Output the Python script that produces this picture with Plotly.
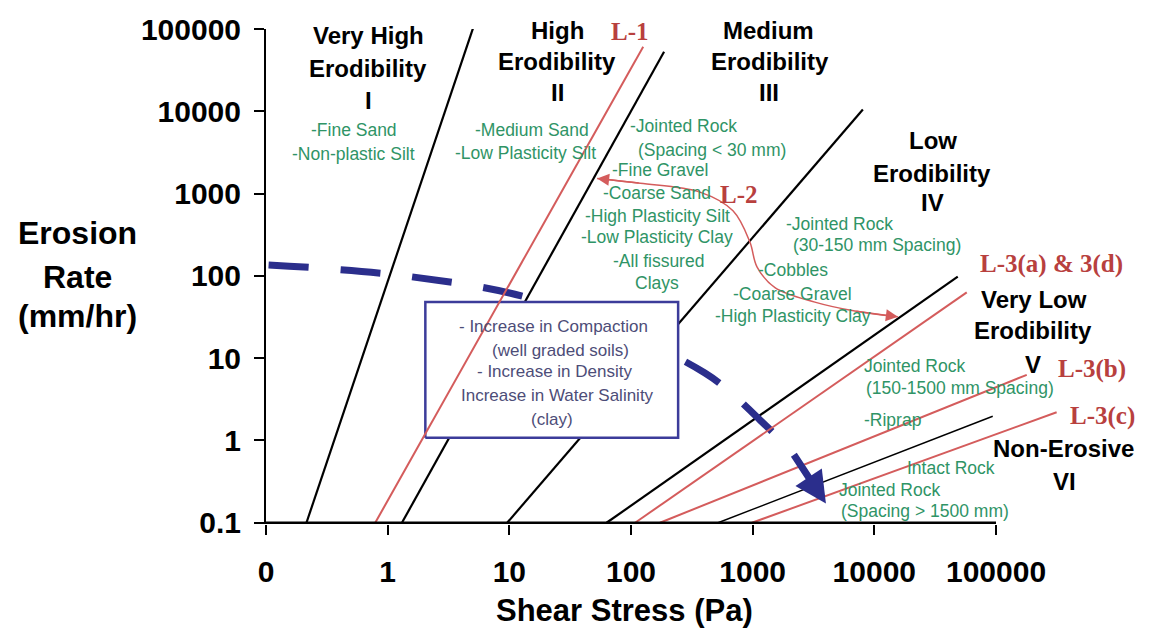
import numpy as np
import plotly.graph_objects as go

# ---------------- data ----------------
x_tick_vals = [0.1, 1, 10, 100, 1000, 10000, 100000]
x_tick_text = ["0", "1", "10", "100", "1000", "10000", "100000"]
y_tick_vals = [0.1, 1, 10, 100, 1000, 10000, 100000]
y_tick_text = ["0.1", "1", "10", "100", "1000", "10000", "100000"]

# category boundary lines (black)
b1_x = [0.215, 5.06];   b1_y = [0.1, 105000]
b2_x = [1.31, 187];     b2_y = [0.1, 53000]
b3_x = [9.6, 8050];     b3_y = [0.1, 10500]
b4_x = [63, 48500];     b4_y = [0.1, 98]
b5_x = [519, 94000];    b5_y = [0.1, 1.97]

# test lines (red)
l1_x = [0.79, 126];       l1_y = [0.1, 61000]
l3a_x = [108, 57500];     l3a_y = [0.1, 63]
l3b_x = [173, 179000];    l3b_y = [0.1, 6.27]
l3c_x = [987, 315000];    l3c_y = [0.1, 2.2]

# L-2 curved double arrow
l2_x = [52.7, 119, 369, 689, 950, 1085, 1525, 3245, 6920, 15600]
l2_y = [1530, 1335, 1042, 618, 256, 129, 72, 48, 37.4, 31.8]

# blue dashed trend (compaction / density / salinity)
trend_x = [0.105, 1.53, 18, 405, 1150, 2140]
trend_y = [136, 98, 49, 6.6, 1.77, 0.70]
trend_tip_x = 4000
trend_tip_y = 0.171

# text box extent
box_x_range = [2.04, 244]
box_y_range = [1.08, 48]

# axis line extent
xaxis_line_x = [0.1, 100000]
xaxis_line_y = [0.1, 0.1]

# ---------------- layout geometry ----------------
W, H = 1152, 634
ML, MT = 265.5, 20
XR = [-1, 5.6]
YR = [-1.015, 5]
DEC_X = 121.8
DEC_Y = 83.75
PW = (XR[1] - XR[0]) * DEC_X
PH = (YR[1] - YR[0]) * DEC_Y
MR = W - ML - PW
MB = H - MT - PH


def paper(px, py):
    return (px - ML) / PW, (MT + PH - py) / PH


SANS = "Liberation Sans, Arial, sans-serif"
SERIF = "Liberation Serif, Times New Roman, serif"
BLACK = "#000000"
RED_LINE = "#d45c5c"
RED_TEXT = "#b8403e"
GREEN = "#2f9466"
NAVY = "#2b2e8c"
BOX_EDGE = "#3c3c9a"
BOX_TEXT = "#4d4d78"

fig = go.Figure()

for xs, ys, w in [(b1_x, b1_y, 2.2), (b2_x, b2_y, 2.2), (b3_x, b3_y, 2.2),
                  (b4_x, b4_y, 2.2), (b5_x, b5_y, 1.4)]:
    fig.add_trace(go.Scatter(x=xs, y=ys, mode="lines",
                             line=dict(color=BLACK, width=w), hoverinfo="skip"))

fig.add_trace(go.Scatter(x=trend_x, y=trend_y, mode="lines",
                         line=dict(color=NAVY, width=7, dash="40px,32px",
                                   shape="spline", smoothing=1),
                         hoverinfo="skip"))

bx = [box_x_range[0], box_x_range[1], box_x_range[1], box_x_range[0], box_x_range[0]]
by = [box_y_range[0], box_y_range[0], box_y_range[1], box_y_range[1], box_y_range[0]]
fig.add_trace(go.Scatter(x=bx, y=by, mode="lines", fill="toself",
                         fillcolor="white", line=dict(color=BOX_EDGE, width=2.5),
                         hoverinfo="skip"))

for xs, ys in [(l1_x, l1_y), (l3a_x, l3a_y), (l3b_x, l3b_y), (l3c_x, l3c_y)]:
    fig.add_trace(go.Scatter(x=xs, y=ys, mode="lines",
                             line=dict(color=RED_LINE, width=2), hoverinfo="skip"))

fig.add_trace(go.Scatter(x=l2_x, y=l2_y, mode="lines",
                         line=dict(color=RED_LINE, width=1.5, shape="spline", smoothing=1),
                         hoverinfo="skip"))

fig.add_trace(go.Scatter(x=xaxis_line_x, y=xaxis_line_y, mode="lines",
                         line=dict(color=BLACK, width=2.5), hoverinfo="skip"))

annotations = []

# arrowheads
annotations.append(dict(x=np.log10(trend_tip_x), y=np.log10(trend_tip_y),
                        ax=np.log10(trend_x[-1]), ay=np.log10(trend_y[-1]),
                        xref="x", yref="y", axref="x", ayref="y", text="",
                        showarrow=True, arrowhead=2, arrowsize=0.9, arrowwidth=7,
                        arrowcolor=NAVY, standoff=0))
annotations.append(dict(x=np.log10(l2_x[0]), y=np.log10(l2_y[0]),
                        ax=np.log10(l2_x[1]), ay=np.log10(l2_y[1]),
                        xref="x", yref="y", axref="x", ayref="y", text="",
                        showarrow=True, arrowhead=2, arrowsize=1.6, arrowwidth=1.5,
                        arrowcolor=RED_LINE, standoff=0))
annotations.append(dict(x=np.log10(l2_x[-1]), y=np.log10(l2_y[-1]),
                        ax=np.log10(l2_x[-2]), ay=np.log10(l2_y[-2]),
                        xref="x", yref="y", axref="x", ayref="y", text="",
                        showarrow=True, arrowhead=2, arrowsize=1.6, arrowwidth=1.5,
                        arrowcolor=RED_LINE, standoff=0))


def label(text, px, py, size, color, family=SANS, weight="normal"):
    x, y = paper(px, py)
    annotations.append(dict(x=x, y=y, xref="paper", yref="paper", text=text,
                            showarrow=False, xanchor="center", yanchor="middle",
                            font=dict(family=family, size=size, color=color, weight=weight)))


black_labels = [
    ("Very High", 368, 27), ("Erodibility", 368, 60), ("I", 368, 93),
    ("High", 557, 22), ("Erodibility", 557, 53), ("II", 557, 85),
    ("Medium", 769, 22), ("Erodibility", 770, 53), ("III", 769, 85),
    ("Low", 933, 133), ("Erodibility", 932, 167), ("IV", 933, 197),
    ("Very Low", 1034, 295), ("Erodibility", 1033, 327), ("V", 1033, 361),
    ("Non-Erosive", 1064, 447), ("VI", 1065, 480),
]
for t, px, py in black_labels:
    label(t, px, py, 24, BLACK, weight="bold")

red_labels = [
    ("L-1", 630, 23), ("L-2", 739, 188), ("L-3(a) &amp; 3(d)", 1052, 259),
    ("L-3(b)", 1092, 366), ("L-3(c)", 1103, 414),
]
for t, px, py in red_labels:
    label(t, px, py, 25, RED_TEXT, family=SERIF, weight="bold")

green_labels = [
    ("-Fine Sand", 354, 123), ("-Non-plastic Silt", 353, 147),
    ("-Medium Sand", 532, 123), ("-Low Plasticity Silt", 525, 146),
    ("-Jointed Rock", 683, 119), ("(Spacing &lt; 30 mm)", 712, 143),
    ("-Fine Gravel", 660, 163), ("-Coarse Sand", 657, 187),
    ("-High Plasticity Silt", 657, 210), ("-Low Plasticity Clay", 657, 232),
    ("-All fissured", 658, 256), ("Clays", 657, 278),
    ("-Jointed Rock", 840, 218), ("(30-150 mm Spacing)", 877, 240),
    ("-Cobbles", 793, 265), ("-Coarse Gravel", 793, 290),
    ("-High Plasticity Clay", 793, 312),
    ("Jointed Rock", 915, 363), ("(150-1500 mm Spacing)", 960, 385),
    ("-Riprap", 893, 418), ("Intact Rock", 951, 467),
    ("Jointed Rock", 890, 489), ("(Spacing &gt; 1500 mm)", 925, 511),
]
for t, px, py in green_labels:
    label(t, px, py, 17.5, GREEN)

box_lines = [
    ("- Increase in Compaction", 553, 323), ("(well graded soils)", 560, 347),
    ("- Increase in Density", 554, 369), ("Increase in Water Salinity", 557, 393),
    ("(clay)", 552, 417),
]
for t, px, py in box_lines:
    label(t, px, py, 17, BOX_TEXT)

for t, px, py in [("Erosion", 77, 228), ("Rate", 77, 272), ("(mm/hr)", 77, 312)]:
    label(t, px, py, 32, BLACK, weight="bold")
label("Shear Stress (Pa)", 624, 612, 31, BLACK, weight="bold")

fig.update_layout(
    width=W, height=H, autosize=False,
    margin=dict(l=ML, r=MR, t=MT, b=MB, pad=0),
    paper_bgcolor="white", plot_bgcolor="white",
    showlegend=False, annotations=annotations,
    xaxis=dict(type="log", range=XR, tickvals=x_tick_vals, ticktext=x_tick_text,
               ticks="outside", ticklen=10, tickwidth=2, tickcolor=BLACK,
               showline=False, showgrid=False, zeroline=False,
               ticklabelstandoff=11,
               tickfont=dict(family=SANS, size=30, color=BLACK, weight="bold")),
    yaxis=dict(type="log", range=YR, tickvals=y_tick_vals, ticktext=y_tick_text,
               ticks="outside", ticklen=10, tickwidth=2, tickcolor=BLACK,
               showline=True, linewidth=2, linecolor=BLACK,
               showgrid=False, zeroline=False, ticklabelstandoff=7,
               tickfont=dict(family=SANS, size=30, color=BLACK, weight="bold")),
)

fig.write_html("out.html", config={"displayModeBar": False},
               post_script="document.body.style.margin='0';document.body.style.overflow='hidden';")
